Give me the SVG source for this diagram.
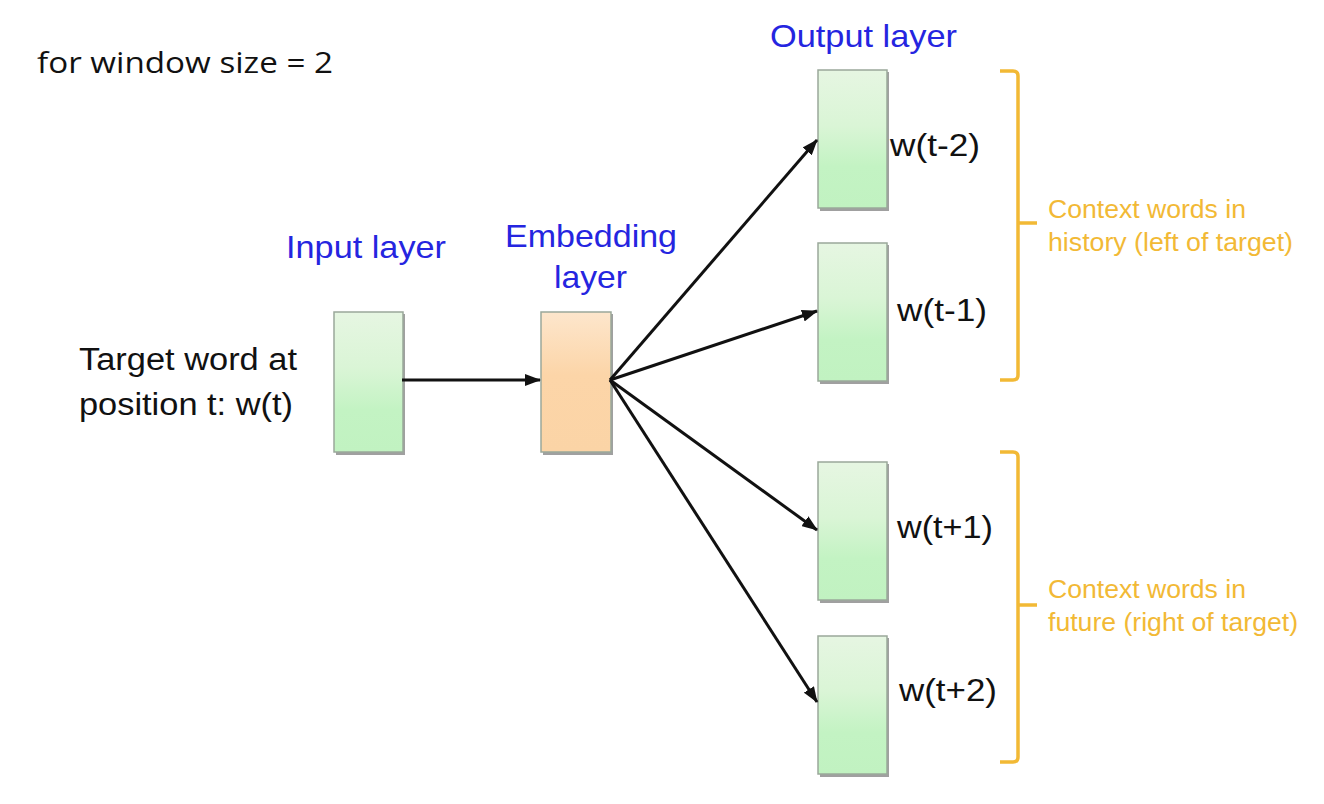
<svg xmlns="http://www.w3.org/2000/svg" width="1324" height="804" viewBox="0 0 1324 804">
<style>
.box{stroke:#9aa89a;stroke-width:1.5}
.sh{fill:#a0a0a0}
.lbl{font-family:"Liberation Sans",Arial,sans-serif;fill:#111;font-size:31px}
.blue{font-family:"Liberation Sans",Arial,sans-serif;fill:#2525e0;font-size:32px}
.ctx{font-family:"Liberation Sans",Arial,sans-serif;fill:#f2b935;font-size:25px}
.br{fill:none;stroke:#f2b935;stroke-width:3.5}
.con{stroke:#111;stroke-width:3;fill:none;marker-end:url(#ah)}
</style>
<defs>
<linearGradient id="g" x1="0" y1="0" x2="0" y2="1">
<stop offset="0" stop-color="#e6f6e2"/><stop offset="0.4" stop-color="#daf5d6"/><stop offset="0.7" stop-color="#c3f3c3"/><stop offset="1" stop-color="#c1f2c1"/>
</linearGradient>
<linearGradient id="o" x1="0" y1="0" x2="0" y2="1">
<stop offset="0" stop-color="#fde6cc"/><stop offset="0.45" stop-color="#fcd5a8"/><stop offset="1" stop-color="#fbd4a6"/>
</linearGradient>
<marker id="ah" markerWidth="16" markerHeight="12" refX="15" refY="6" orient="auto" markerUnits="userSpaceOnUse" viewBox="0 0 16 12">
<path d="M0,0 L16,6 L0,12 Z" fill="#111"/>
</marker>
</defs>
<rect width="1324" height="804" fill="#fff"/>
<text x="37" y="73" font-family="'Open Sans','Liberation Sans',sans-serif" font-size="30" fill="#111" textLength="296" lengthAdjust="spacingAndGlyphs">for window size = 2</text>
<text class="blue" x="770" y="47" textLength="187" lengthAdjust="spacingAndGlyphs">Output layer</text>
<text class="blue" x="286" y="258" textLength="160" lengthAdjust="spacingAndGlyphs">Input layer</text>
<text class="blue" x="505" y="247" textLength="172" lengthAdjust="spacingAndGlyphs">Embedding</text>
<text class="blue" x="554" y="288" textLength="73" lengthAdjust="spacingAndGlyphs">layer</text>
<g id="target-label"><text class="lbl" x="79" y="370" textLength="218" lengthAdjust="spacingAndGlyphs">Target word at</text><text class="lbl" x="79" y="415" textLength="214" lengthAdjust="spacingAndGlyphs">position t: w(t)</text></g>
<g id="input"><rect class="sh" x="336" y="314" width="69" height="141"/><rect class="box" x="334" y="312" width="69" height="140" fill="url(#g)"/></g>
<g id="embedding"><rect class="sh" x="543" y="314" width="70" height="141"/><rect class="box" x="541" y="312" width="70" height="140" fill="url(#o)"/></g>
<g id="out1"><rect class="sh" x="820" y="72" width="69" height="139"/><rect class="box" x="818" y="70" width="69" height="138" fill="url(#g)"/><text class="lbl" x="890" y="156" textLength="90" lengthAdjust="spacingAndGlyphs">w(t-2)</text></g>
<g id="out2"><rect class="sh" x="820" y="245" width="69" height="139"/><rect class="box" x="818" y="243" width="69" height="138" fill="url(#g)"/><text class="lbl" x="897" y="321" textLength="90" lengthAdjust="spacingAndGlyphs">w(t-1)</text></g>
<g id="out3"><rect class="sh" x="820" y="464" width="69" height="139"/><rect class="box" x="818" y="462" width="69" height="138" fill="url(#g)"/><text class="lbl" x="897" y="538" textLength="96" lengthAdjust="spacingAndGlyphs">w(t+1)</text></g>
<g id="out4"><rect class="sh" x="820" y="638" width="69" height="139"/><rect class="box" x="818" y="636" width="69" height="138" fill="url(#g)"/><text class="lbl" x="899" y="701" textLength="98" lengthAdjust="spacingAndGlyphs">w(t+2)</text></g>
<g id="connectors">
<line class="con" x1="402" y1="380" x2="540" y2="380"/>
<line class="con" x1="610" y1="380" x2="817" y2="140"/>
<line class="con" x1="610" y1="380" x2="817" y2="311"/>
<line class="con" x1="610" y1="380" x2="817" y2="530"/>
<line class="con" x1="610" y1="380" x2="817" y2="702"/>
</g>
<g id="history">
<path class="br" d="M1000,71 H1013 Q1018,71 1018,76 V375 Q1018,380 1013,380 H1000 M1018,223 H1037"/>
<text class="ctx" x="1048" y="218" textLength="198" lengthAdjust="spacingAndGlyphs">Context words in</text>
<text class="ctx" x="1048" y="251" textLength="245" lengthAdjust="spacingAndGlyphs">history (left of target)</text>
</g>
<g id="future">
<path class="br" d="M1000,452 H1013 Q1018,452 1018,457 V757 Q1018,762 1013,762 H1000 M1018,605 H1037"/>
<text class="ctx" x="1048" y="598" textLength="198" lengthAdjust="spacingAndGlyphs">Context words in</text>
<text class="ctx" x="1048" y="631" textLength="250" lengthAdjust="spacingAndGlyphs">future (right of target)</text>
</g>
</svg>
